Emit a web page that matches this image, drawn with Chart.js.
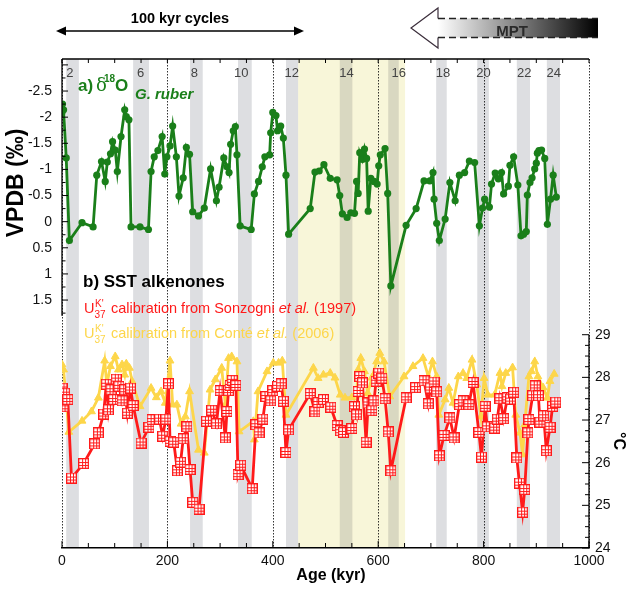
<!DOCTYPE html>
<html>
<head>
<meta charset="utf-8">
<script src="https://cdn.jsdelivr.net/npm/chart.js@4.4.0/dist/chart.umd.min.js"></script>
<style>
  html, body { margin: 0; padding: 0; background: #fff; }
  canvas { display: block; }
</style>
</head>
<body>
<canvas id="sst" width="630" height="589"></canvas>
<script>
// a) d18O G. ruber (permil VPDB) against age (kyr)
const d18oAge = [0, 1, 3, 8, 14, 38, 59, 66, 75, 82, 86, 92, 96, 101, 105, 112, 119, 122, 127, 131,
  148, 164, 169, 175, 182, 190, 195, 199, 205, 210, 217, 222, 230, 236, 242, 248, 259, 270, 282, 293,
  298, 307, 313, 317, 320, 325, 329, 332, 338, 359, 365, 373, 380, 385, 394, 396, 400, 406, 409, 415,
  420, 425, 430, 471, 480, 488, 497, 509, 522, 527, 532, 541, 548, 555, 559, 562, 565, 570, 574, 578,
  581, 586, 592, 598, 601, 604, 613, 618, 624, 653, 672, 687, 698, 704, 706, 711, 716, 727, 736, 746,
  754, 764, 773, 783, 792, 798, 802, 811, 815, 822, 828, 834, 838, 847, 850, 857, 865, 871, 876, 881,
  883, 888, 892, 897, 900, 902, 905, 910, 916, 921, 927, 932, 938];
const d18oVal = [-2.09, -2.25, -2.14, -1.22, 0.36, 0.02, 0.10, -0.89, -1.15, -0.77, -1.14, -1.30, -1.53, -1.37, -0.96, -1.63, -2.14, -2.01, -1.95, 0.10,
  0.10, 0.15, -0.96, -1.24, -1.36, -1.63, -0.91, -1.24, -1.45, -1.83, -1.24, -0.49, -0.84, -1.42, -1.29, -0.19, -0.11, -0.26, -1.01, -0.40,
  -0.66, -1.22, -1.05, -0.94, -1.48, -1.74, -1.82, -1.28, 0.08, 0.15, -0.53, -0.77, -1.05, -1.24, -1.28, -1.70, -2.09, -2.03, -1.74, -1.83,
  -1.60, -0.89, 0.24, -0.25, -0.95, -0.97, -1.09, -0.83, -0.80, -0.50, -0.15, -0.08, -0.17, -0.16, -0.77, -0.54, -1.32, -1.19, -1.39, -1.21,
  -0.20, -0.83, -0.77, -0.72, -1.07, -1.28, -1.40, -0.54, 1.23, 0.07, -0.25, -0.78, -0.78, -0.94, -0.43, 0.03, 0.36, -0.05, -0.75, -0.40,
  -0.89, -0.94, -1.16, -1.13, 0.08, -0.26, -0.43, -0.28, -0.72, -0.93, -0.82, -0.94, -0.53, -0.68, -1.08, -1.24, -0.70, 0.27, 0.24, 0.19,
  -0.51, -0.75, -0.84, -1.01, -1.12, -1.31, -1.36, -1.37, -1.21, 0.05, -0.43, -0.89, -0.47];

// b) SST (deg C), UK'37 calibration from Sonzogni et al. (1997)
const sonzAge = [0, 2, 5, 11, 18, 41, 62, 69, 79, 84, 88, 93, 98, 103, 108, 114, 119, 124, 130, 135,
  150, 165, 171, 185, 191, 197, 202, 205, 212, 219, 225, 230, 237, 243, 248, 260, 274, 284, 293, 300,
  310, 313, 316, 319, 323, 330, 334, 339, 361, 368, 374, 381, 387, 396, 400, 409, 416, 420, 425, 430,
  471, 480, 486, 496, 510, 522, 528, 534, 550, 555, 559, 562, 565, 570, 577, 581, 588, 592, 596, 601,
  607, 613, 619, 624, 653, 671, 687, 695, 699, 706, 711, 716, 725, 736, 744, 754, 761, 772, 780, 791,
  796, 803, 807, 821, 826, 831, 838, 845, 851, 857, 863, 868, 874, 878, 884, 886, 893, 898, 904, 907,
  914, 919, 926, 931, 937];
const sonzSst = [27.75, 27.31, 27.63, 27.48, 25.64, 25.98, 26.44, 26.70, 27.14, 27.84, 27.24, 27.71, 27.48, 27.96, 27.79, 27.45, 27.71, 27.16, 27.75, 27.34,
  26.46, 26.83, 27.01, 27.02, 26.62, 27.02, 27.85, 26.50, 26.48, 25.81, 26.01, 26.56, 26.84, 25.84, 25.07, 24.91, 26.97, 27.23, 26.91, 27.69,
  26.58, 27.20, 27.69, 27.81, 27.93, 27.81, 25.72, 25.94, 25.39, 26.89, 26.70, 27.02, 27.55, 27.45, 27.69, 27.79, 27.85, 27.44, 26.24, 26.77,
  27.62, 27.19, 27.41, 27.48, 27.30, 26.87, 26.75, 26.71, 26.80, 27.31, 27.12, 27.67, 28.02, 27.87, 26.48, 27.40, 27.22, 27.45, 27.91, 28.10,
  27.98, 27.50, 26.72, 25.81, 27.52, 27.76, 27.92, 27.38, 27.75, 27.89, 27.66, 26.16, 26.64, 27.05, 26.58, 27.36, 27.45, 27.36, 27.88, 26.71,
  26.13, 27.32, 26.84, 26.81, 27.02, 27.50, 27.03, 27.52, 27.49, 27.65, 26.11, 25.52, 24.84, 25.37, 26.70, 27.01, 27.57, 27.80, 27.57, 26.95,
  27.10, 26.28, 26.83, 27.32, 27.42];

// b) SST (deg C), UK'37 calibration from Conte et al. (2006)
const conteAge = [0, 3, 13, 38, 56, 69, 81, 85, 92, 101, 107, 114, 119, 122, 128, 133, 148, 169, 179, 188,
  196, 205, 210, 218, 226, 234, 242, 259, 270, 281, 291, 303, 310, 316, 322, 332, 336, 363, 365, 372,
  389, 401, 411, 418, 425, 477, 486, 496, 509, 518, 528, 537, 550, 559, 562, 567, 574, 580, 588, 597,
  603, 611, 622, 649, 666, 685, 695, 703, 711, 715, 727, 734, 742, 752, 761, 768, 778, 787, 795, 801,
  808, 821, 831, 835, 842, 855, 861, 869, 874, 878, 886, 891, 897, 903, 913, 921, 926, 934];
const conteSst = [28.30, 28.18, 26.72, 26.98, 27.20, 27.52, 28.39, 27.83, 28.26, 28.49, 28.18, 28.30, 28.06, 28.32, 28.22, 27.91, 27.32, 27.75, 27.53, 27.67,
  27.40, 28.39, 27.36, 27.36, 26.91, 27.08, 27.67, 26.30, 26.23, 27.71, 27.95, 28.22, 27.36, 28.45, 28.49, 28.37, 26.73, 26.97, 26.54, 27.67,
  28.14, 28.34, 28.34, 28.39, 27.12, 28.22, 27.98, 28.06, 28.10, 27.99, 27.59, 27.52, 27.53, 27.59, 28.18, 28.45, 28.14, 27.63, 27.99, 28.37,
  28.57, 28.37, 27.55, 28.02, 28.26, 28.45, 28.02, 28.37, 28.02, 27.12, 27.48, 27.75, 27.40, 28.02, 28.10, 27.98, 28.41, 27.83, 27.08, 27.98,
  27.59, 27.59, 28.10, 27.79, 28.10, 28.23, 27.12, 26.70, 26.19, 26.89, 28.02, 28.14, 28.37, 28.02, 27.76, 27.52, 27.91, 28.08];

// shaded glacial stages (kyr) and the MPT interval
const glacialBands = [[8, 32], [135, 165], [243, 267], [334, 360], [425, 448], [527, 551], [619, 639], [710, 730], [788, 810], [863, 888], [920, 945]];
const mptSpan = [448, 651];
const misLabels = ['2', '6', '8', '10', '12', '14', '16', '18', '20', '22', '24'];
const misAge = [15, 149, 251, 340, 436, 540, 639, 723, 800, 877, 933];

const ageTicks = [0, 200, 400, 600, 800, 1000];
const d18oTicks = [-2.5, -2, -1.5, -1, -0.5, 0, 0.5, 1, 1.5];
const sstTicks = [24, 25, 26, 27, 28, 29];

const SANS = "'Liberation Sans', Arial, sans-serif";
const GREEN = '#1a7f1a';
const RED = '#ff1a1a';
const GOLD = '#fdd64a';

function gridSquare(size, color) {
  const c = document.createElement('canvas');
  c.width = c.height = size;
  const g = c.getContext('2d');
  g.fillStyle = '#fff';
  g.fillRect(0, 0, size, size);
  g.strokeStyle = color;
  g.lineWidth = 1.3;
  g.strokeRect(0.65, 0.65, size - 1.3, size - 1.3);
  g.lineWidth = 1;
  g.beginPath();
  [1 / 3, 2 / 3].forEach(f => {
    const p = Math.round(size * f) + 0.5;
    g.moveTo(p, 1); g.lineTo(p, size - 1);
    g.moveTo(1, p); g.lineTo(size - 1, p);
  });
  g.stroke();
  return c;
}

function seg(ctx, x1, y1, x2, y2) {
  ctx.beginPath(); ctx.moveTo(x1, y1); ctx.lineTo(x2, y2); ctx.stroke();
}

function txt(ctx, s, x, y, font, color, align) {
  ctx.font = font; ctx.fillStyle = color; ctx.textAlign = align || 'left';
  ctx.fillText(s, x, y);
  return ctx.measureText(s).width;
}

function ukLabel(ctx, x, y, color, name, year) {
  let cx = x;
  cx += txt(ctx, 'U', cx, y, '14.5px ' + SANS, color);
  txt(ctx, "K'", cx + 0.5, y - 6, '10px ' + SANS, color);
  txt(ctx, '37', cx, y + 4.5, '10px ' + SANS, color);
  cx = x + 27;
  cx += txt(ctx, 'calibration from ' + name + ' ', cx, y, '14.5px ' + SANS, color);
  cx += txt(ctx, 'et al.', cx, y, 'italic 14.5px ' + SANS, color);
  txt(ctx, ' (' + year + ')', cx, y, '14.5px ' + SANS, color);
}

const decor = {
  id: 'decor',
  beforeDraw(chart) {
    const { ctx, chartArea: a, scales: { x } } = chart;
    ctx.save();
    const band = (s, color) => {
      const x1 = x.getPixelForValue(s[0]), x2 = x.getPixelForValue(s[1]);
      ctx.fillStyle = color;
      ctx.fillRect(x1, a.top, x2 - x1, a.bottom - a.top);
    };
    band(mptSpan, '#f8f6d9');
    glacialBands.forEach(b => {
      const inMpt = b[0] >= mptSpan[0] && b[1] <= mptSpan[1];
      band(b, inMpt ? '#d9d8c1' : '#dddee1');
    });
    ctx.strokeStyle = '#000';
    ctx.lineWidth = 0.8;
    ctx.setLineDash([1.5, 1.5]);
    ageTicks.forEach(t => {
      const px = Math.round(x.getPixelForValue(t)) + 0.5;
      seg(ctx, px, a.top, px, a.bottom);
    });
    ctx.restore();
  },
  afterDraw(chart) {
    const { ctx, chartArea: a, scales: { x, yL, yR } } = chart;
    ctx.save();
    ctx.strokeStyle = '#000';
    ctx.lineWidth = 1.3;
    // frame pieces
    seg(ctx, a.left, a.top, a.right, a.top);
    seg(ctx, a.left, a.top, a.left, yL.getPixelForValue(1.8));
    seg(ctx, a.right, yR.getPixelForValue(29), a.right, a.bottom);
    ctx.lineWidth = 1;
    for (let k = 0; k <= 20; k++) {
      const px = x.getPixelForValue(k * 50);
      seg(ctx, px, a.top, px, a.top + 4);
      seg(ctx, px, a.bottom, px, a.bottom - (k % 4 === 0 ? 7 : 5));
    }
    for (let k = -12; k <= 7; k++) {
      const py = yL.getPixelForValue(k * 0.25);
      seg(ctx, a.left, py, a.left + (k % 2 === 0 ? 6 : 3.5), py);
    }
    for (let k = 0; k <= 20; k++) {
      const py = yR.getPixelForValue(24 + k * 0.25);
      seg(ctx, a.right, py, a.right - (k % 4 === 0 ? 7 : 4), py);
    }
    // MIS labels
    misLabels.forEach((s, i) => txt(ctx, s, x.getPixelForValue(misAge[i]), 77, '13px ' + SANS, '#444', 'center'));

    // axis titles
    txt(ctx, 'Age (kyr)', 331, 580, 'bold 16px ' + SANS, '#000', 'center');
    ctx.save();
    ctx.translate(23, 183);
    ctx.rotate(-Math.PI / 2);
    txt(ctx, 'VPDB (‰)', 0, 0, 'bold 23px ' + SANS, '#000', 'center');
    ctx.restore();
    ctx.save();
    ctx.translate(614, 441);
    ctx.rotate(Math.PI / 2);
    txt(ctx, '°C', 0, 0, 'bold 16px ' + SANS, '#000', 'center');
    ctx.restore();

    // panel labels
    txt(ctx, 'a)', 78, 91, 'bold 17px ' + SANS, GREEN);
    txt(ctx, 'δ', 96, 91, "18px 'DejaVu Serif', serif", GREEN);
    txt(ctx, '18', 104, 82, 'bold 10px ' + SANS, GREEN);
    txt(ctx, 'O', 115, 91, 'bold 17px ' + SANS, GREEN);
    txt(ctx, 'G. ruber', 135, 99, 'italic bold 15px ' + SANS, GREEN);
    txt(ctx, 'b) SST alkenones', 83, 287, 'bold 17px ' + SANS, '#000');
    ukLabel(ctx, 84, 313, RED, 'Sonzogni', '1997');
    ukLabel(ctx, 84, 338, GOLD, 'Conté', '2006');

    // 100 kyr cycles arrow
    txt(ctx, '100 kyr cycles', 180, 23, 'bold 14.5px ' + SANS, '#000', 'center');
    ctx.lineWidth = 1.5;
    seg(ctx, 62, 31, 298, 31);
    ctx.fillStyle = '#000';
    ctx.beginPath(); ctx.moveTo(56, 31); ctx.lineTo(66, 26.5); ctx.lineTo(66, 35.5); ctx.closePath(); ctx.fill();
    ctx.beginPath(); ctx.moveTo(304, 31); ctx.lineTo(294, 26.5); ctx.lineTo(294, 35.5); ctx.closePath(); ctx.fill();

    // MPT arrow
    const tipX = 411, baseX = 438, endX = 598, cy = 28;
    const grad = ctx.createLinearGradient(baseX, 0, endX, 0);
    grad.addColorStop(0, '#ffffff');
    grad.addColorStop(1, '#000000');
    ctx.fillStyle = grad;
    ctx.fillRect(baseX, cy - 9.5, endX - baseX, 19);
    ctx.fillStyle = '#fff';
    ctx.beginPath();
    ctx.moveTo(tipX, cy); ctx.lineTo(baseX, cy - 20); ctx.lineTo(baseX, cy + 20); ctx.closePath();
    ctx.fill();
    ctx.strokeStyle = '#3b2e3b';
    ctx.lineWidth = 1.2;
    ctx.beginPath();
    ctx.moveTo(baseX, cy - 9.5); ctx.lineTo(baseX, cy - 20); ctx.lineTo(tipX, cy);
    ctx.lineTo(baseX, cy + 20); ctx.lineTo(baseX, cy + 9.5);
    ctx.stroke();
    ctx.setLineDash([7, 4]);
    ctx.strokeStyle = '#222';
    ctx.lineWidth = 1.5;
    seg(ctx, baseX, cy - 9.5, endX, cy - 9.5);
    seg(ctx, baseX, cy + 9.5, endX, cy + 9.5);
    ctx.setLineDash([]);
    txt(ctx, 'MPT', 512, 36, 'bold 15px ' + SANS, '#2a2a2a', 'center');
    ctx.restore();
  }
};

const pts = (xs, ys) => xs.map((v, i) => ({ x: v, y: ys[i] }));

new Chart(document.getElementById('sst'), {
  type: 'line',
  data: {
    datasets: [
      {
        label: "UK'37 Sonzogni et al. (1997)",
        data: pts(sonzAge, sonzSst),
        yAxisID: 'yR',
        borderColor: RED,
        borderWidth: 2.8,
        pointStyle: gridSquare(11, RED),
        pointRadius: 5,
        tension: 0
      },
      {
        label: "UK'37 Conté et al. (2006)",
        data: pts(conteAge, conteSst),
        yAxisID: 'yR',
        borderColor: GOLD,
        backgroundColor: GOLD,
        borderWidth: 2.8,
        pointStyle: 'triangle',
        pointRadius: 4.5,
        pointBorderWidth: 1,
        tension: 0
      },
      {
        label: 'd18O G. ruber',
        data: pts(d18oAge, d18oVal),
        yAxisID: 'yL',
        borderColor: GREEN,
        backgroundColor: GREEN,
        borderWidth: 2.8,
        pointRadius: 3.6,
        pointBorderWidth: 0,
        tension: 0
      }
    ]
  },
  options: {
    responsive: false,
    animation: false,
    devicePixelRatio: 1,
    layout: { padding: { top: 59, left: 0, right: 0, bottom: 0 } },
    plugins: { legend: { display: false }, tooltip: { enabled: false } },
    scales: {
      x: {
        type: 'linear',
        position: 'bottom',
        min: 0,
        max: 1000,
        afterBuildTicks: s => { s.ticks = ageTicks.map(v => ({ value: v })); },
        afterFit: s => { s.height = 41; },
        grid: { display: false, drawTicks: false },
        border: { display: true, color: '#000', width: 1.5 },
        ticks: { padding: 5, color: '#111', font: { family: SANS, size: 14 }, callback: v => String(v), maxRotation: 0 }
      },
      yL: {
        type: 'linear',
        position: 'left',
        reverse: true,
        min: -3.113,
        max: 6.245,
        afterBuildTicks: s => { s.ticks = d18oTicks.map(v => ({ value: v })); },
        afterFit: s => { s.width = 62; },
        grid: { display: false, drawTicks: false },
        border: { display: false },
        ticks: { padding: 10, color: '#111', font: { family: SANS, size: 14 }, callback: v => String(v), autoSkip: false }
      },
      yR: {
        type: 'linear',
        position: 'right',
        min: 24,
        max: 35.463,
        afterBuildTicks: s => { s.ticks = sstTicks.map(v => ({ value: v })); },
        afterFit: s => { s.width = 41; },
        grid: { display: false, drawTicks: false },
        border: { display: false },
        ticks: { padding: 6, color: '#111', font: { family: SANS, size: 14 }, callback: v => String(v), autoSkip: false }
      }
    }
  },
  plugins: [decor]
});
</script>
</body>
</html>
